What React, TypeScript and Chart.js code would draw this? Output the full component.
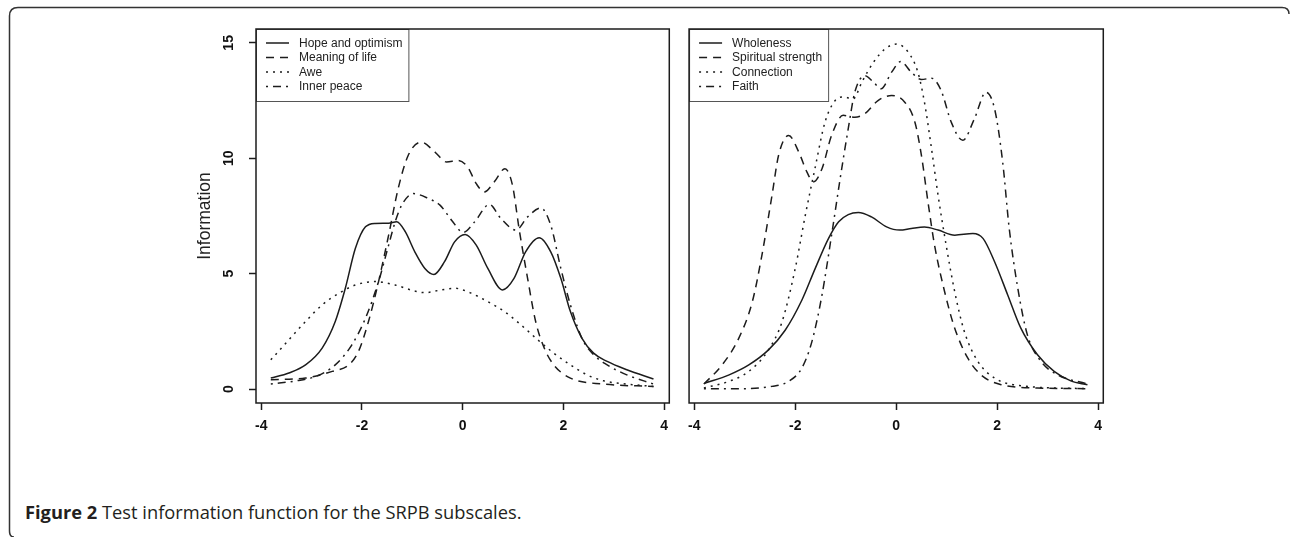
import { useEffect, useRef } from "react";
import { Chart, registerables } from "chart.js";

Chart.register(...registerables);

// ---- axis ticks ----
const xTickValues = [-4, -2, 0, 2, 4];
const yTickValues = [0, 5, 10, 15];
const xMin = -4.104;
const xMax = 4.104;
const yMin = -0.6;
const yMax = 15.6;

// ---- left panel series ----
const hopeLabel = "Hope and optimism";
const hopeX = [-3.81, -3.45, -3.12, -2.79, -2.53, -2.33, -2.13, -1.93, -1.74, -1.47, -1.31, -1.14, -0.95, -0.75, -0.57, -0.36, -0.16, 0.05, 0.27, 0.5, 0.79, 1.02, 1.25, 1.52, 1.75, 1.95, 2.14, 2.37, 2.6, 2.87, 3.26, 3.79];
const hopeY = [0.48, 0.7, 1.05, 1.78, 2.93, 4.37, 6.1, 7.03, 7.18, 7.19, 7.25, 6.82, 5.95, 5.23, 4.97, 5.52, 6.38, 6.7, 6.24, 5.23, 4.3, 4.8, 5.95, 6.56, 5.95, 4.8, 3.36, 2.2, 1.56, 1.2, 0.84, 0.44];

const meaningLabel = "Meaning of life";
const meaningX = [-3.81, -3.12, -2.59, -2.26, -2.07, -1.87, -1.67, -1.47, -1.28, -1.08, -0.82, -0.55, -0.32, -0.09, 0.1, 0.27, 0.43, 0.63, 0.84, 0.99, 1.12, 1.29, 1.45, 1.62, 1.81, 2.14, 2.8, 3.79];
const meaningY = [0.41, 0.48, 0.77, 1.05, 1.63, 2.93, 4.66, 6.67, 8.69, 10.13, 10.7, 10.27, 9.84, 9.91, 9.62, 8.9, 8.54, 8.98, 9.55, 8.83, 6.96, 4.8, 2.93, 1.78, 1.05, 0.48, 0.22, 0.12];

const aweLabel = "Awe";
const aweX = [-3.81, -3.45, -3.12, -2.79, -2.46, -2.13, -1.74, -1.34, -0.95, -0.75, -0.42, -0.16, 0.1, 0.5, 0.83, 1.16, 1.49, 1.81, 2.14, 2.47, 2.8, 3.26, 3.79];
const aweY = [1.27, 2.14, 2.93, 3.65, 4.15, 4.51, 4.66, 4.51, 4.25, 4.18, 4.3, 4.37, 4.22, 3.79, 3.36, 2.78, 2.14, 1.56, 1.05, 0.62, 0.36, 0.22, 0.12];

const peaceLabel = "Inner peace";
const peaceX = [-3.81, -3.31, -2.92, -2.53, -2.2, -1.93, -1.67, -1.47, -1.34, -1.21, -0.98, -0.68, -0.45, -0.22, 0.01, 0.24, 0.53, 0.76, 1.06, 1.29, 1.55, 1.75, 1.95, 2.14, 2.37, 2.6, 2.87, 3.26, 3.79];
const peaceY = [0.22, 0.36, 0.55, 1.05, 1.92, 3.07, 4.66, 6.24, 7.25, 7.97, 8.47, 8.26, 7.97, 7.32, 6.79, 7.25, 8.0, 7.39, 6.89, 7.46, 7.85, 7.1, 5.23, 3.65, 2.2, 1.49, 1.05, 0.62, 0.22];

// ---- right panel series ----
const wholeLabel = "Wholeness";
const wholeX = [-3.81, -3.31, -2.92, -2.53, -2.2, -1.87, -1.61, -1.34, -1.14, -0.95, -0.75, -0.49, -0.19, 0.07, 0.3, 0.56, 0.83, 1.16, 1.52, 1.72, 1.95, 2.21, 2.47, 2.8, 3.13, 3.46, 3.79];
const wholeY = [0.24, 0.62, 1.05, 1.7, 2.55, 3.85, 5.2, 6.53, 7.25, 7.56, 7.65, 7.46, 7.03, 6.89, 6.96, 7.02, 6.89, 6.67, 6.74, 6.53, 5.52, 4.08, 2.64, 1.49, 0.77, 0.36, 0.19];

const strengthLabel = "Spiritual strength";
const strengthX = [-3.81, -3.45, -3.12, -2.85, -2.66, -2.46, -2.33, -2.13, -1.93, -1.77, -1.64, -1.47, -1.28, -1.05, -0.82, -0.62, -0.36, -0.09, 0.17, 0.37, 0.5, 0.63, 0.76, 0.96, 1.16, 1.42, 1.68, 2.08, 2.8, 3.79];
const strengthY = [0.22, 1.05, 2.2, 3.79, 5.81, 8.4, 10.13, 10.99, 10.27, 9.41, 8.98, 9.55, 10.99, 11.86, 11.78, 11.93, 12.5, 12.72, 12.43, 11.57, 10.13, 8.11, 6.24, 4.22, 2.64, 1.34, 0.62, 0.19, 0.05, 0.02];

const connectionLabel = "Connection";
const connectionX = [-3.81, -3.31, -2.92, -2.53, -2.26, -2.0, -1.8, -1.61, -1.41, -1.21, -1.05, -0.85, -0.68, -0.45, -0.22, 0.01, 0.24, 0.43, 0.56, 0.7, 0.83, 0.99, 1.16, 1.35, 1.62, 1.95, 2.47, 3.79];
const connectionY = [0.05, 0.34, 0.77, 1.7, 2.93, 5.23, 7.54, 9.55, 11.57, 12.5, 12.65, 12.58, 13.3, 14.16, 14.74, 14.95, 14.59, 13.73, 12.43, 10.42, 8.4, 6.24, 4.22, 2.5, 1.2, 0.48, 0.15, 0.02];

const faithLabel = "Faith";
const faithX = [-3.81, -3.12, -2.46, -2.13, -1.87, -1.67, -1.47, -1.28, -1.11, -0.95, -0.82, -0.62, -0.45, -0.3, -0.09, 0.09, 0.3, 0.5, 0.7, 0.89, 1.09, 1.32, 1.55, 1.78, 1.95, 2.11, 2.24, 2.41, 2.6, 2.87, 3.2, 3.79];
const faithY = [0.02, 0.02, 0.12, 0.34, 0.91, 2.06, 4.08, 6.67, 9.12, 11.28, 12.86, 13.58, 13.3, 13.01, 13.73, 14.19, 13.73, 13.41, 13.47, 12.94, 11.57, 10.78, 11.71, 12.86, 12.14, 9.84, 6.96, 4.37, 2.35, 1.2, 0.62, 0.22];

// ---- styles ----
const INK = "#1c1c1c";
const SOLID: number[] = [];
const DASHED = [8, 6];
const DOTTED = [2, 5];
const DOTDASH = [2, 5, 8, 5];
const FONT = '"Liberation Sans", Arial, Helvetica, sans-serif';

function series(label: string, xs: number[], ys: number[], dash: number[]) {
  return {
    label,
    data: xs.map((x, i) => ({ x, y: ys[i] })),
    borderColor: INK,
    borderWidth: 1.5,
    borderDash: dash,
    pointRadius: 0,
    fill: false,
    tension: 0.4,
    cubicInterpolationMode: "monotone" as const,
  };
}

const boxAndLegend = {
  id: "boxAndLegend",
  afterDraw(chart: any) {
    const { ctx, chartArea: a } = chart;
    ctx.save();
    ctx.font = `12px ${FONT}`;
    const ds = chart.data.datasets;
    const maxW = Math.max(...ds.map((d: any) => ctx.measureText(d.label).width));
    const w = maxW + 49;
    const h = 72;
    ctx.fillStyle = "#ffffff";
    ctx.fillRect(a.left, a.top, w, h);
    ctx.strokeStyle = "#555555";
    ctx.lineWidth = 1;
    ctx.setLineDash([]);
    ctx.strokeRect(a.left + 0.5, a.top + 0.5, w, h);
    ds.forEach((d: any, i: number) => {
      const y = a.top + 14 + i * 14.5;
      ctx.beginPath();
      ctx.setLineDash(d.borderDash || []);
      ctx.strokeStyle = INK;
      ctx.lineWidth = 1.5;
      ctx.moveTo(a.left + 10, y);
      ctx.lineTo(a.left + 33, y);
      ctx.stroke();
      ctx.setLineDash([]);
      ctx.fillStyle = "#222222";
      ctx.textBaseline = "middle";
      ctx.textAlign = "left";
      ctx.fillText(d.label, a.left + 43, y + 0.5);
    });
    ctx.setLineDash([]);
    ctx.strokeStyle = INK;
    ctx.lineWidth = 1.5;
    ctx.strokeRect(a.left, a.top, a.right - a.left, a.bottom - a.top);
    ctx.restore();
  },
};

function xScale() {
  return {
    type: "linear" as const,
    min: xMin,
    max: xMax,
    afterBuildTicks: (s: any) => {
      s.ticks = xTickValues.map((v) => ({ value: v }));
    },
    afterFit: (s: any) => {
      s.height = 57;
    },
    border: { display: false },
    grid: { display: true, drawOnChartArea: false, drawTicks: true, tickLength: 7, tickWidth: 1.5, tickColor: INK },
    ticks: {
      color: "#111111",
      font: { family: FONT, size: 14, weight: "bold" as const },
      padding: 8,
      maxRotation: 0,
      autoSkip: false,
    },
  };
}

function makeChart(canvas: HTMLCanvasElement, datasets: any[], withYAxis: boolean, padding: any) {
  const yAxis = withYAxis
    ? {
        min: yMin,
        max: yMax,
        afterBuildTicks: (s: any) => {
          s.ticks = yTickValues.map((v) => ({ value: v }));
        },
        afterFit: (s: any) => {
          s.width = 61;
        },
        border: { display: false },
        grid: { display: true, drawOnChartArea: false, drawTicks: true, tickLength: 7, tickWidth: 1.5, tickColor: INK },
        ticks: {
          color: "#111111",
          font: { family: FONT, size: 14, weight: "bold" as const },
          padding: 12,
          minRotation: 90,
          maxRotation: 90,
          crossAlign: "center" as const,
          autoSkip: false,
        },
        title: {
          display: true,
          text: "Information",
          color: "#222222",
          font: { family: FONT, size: 17.5 },
          padding: { top: 0, bottom: 0 },
        },
      }
    : { display: false, min: yMin, max: yMax };

  return new Chart(canvas, {
    type: "line",
    data: { datasets },
    options: {
      responsive: false,
      animation: false,
      events: [],
      layout: { padding },
      scales: { x: xScale(), y: yAxis as any },
      plugins: { legend: { display: false }, tooltip: { enabled: false } },
    },
    plugins: [boxAndLegend],
  });
}

export default function App() {
  const leftRef = useRef<HTMLCanvasElement>(null);
  const rightRef = useRef<HTMLCanvasElement>(null);

  useEffect(() => {
    const left = makeChart(
      leftRef.current!,
      [
        series(hopeLabel, hopeX, hopeY, SOLID),
        series(meaningLabel, meaningX, meaningY, DASHED),
        series(aweLabel, aweX, aweY, DOTTED),
        series(peaceLabel, peaceX, peaceY, DOTDASH),
      ],
      true,
      { left: 15, top: 29, right: 4, bottom: 0 }
    );
    const right = makeChart(
      rightRef.current!,
      [
        series(wholeLabel, wholeX, wholeY, SOLID),
        series(strengthLabel, strengthX, strengthY, DASHED),
        series(connectionLabel, connectionX, connectionY, DOTTED),
        series(faithLabel, faithX, faithY, DOTDASH),
      ],
      false,
      { left: 9, top: 29, right: 5, bottom: 0 }
    );
    return () => {
      left.destroy();
      right.destroy();
    };
  }, []);

  return (
    <div style={{ position: "absolute", left: 0, top: 0, width: 1290, height: 537, background: "#fff", overflow: "hidden" }}>
      <svg width={1290} height={537} style={{ position: "absolute", left: 0, top: 0 }}>
        <path
          d="M 14 537 Q 9.5 537 9.5 531 L 9.5 16 Q 9.5 7.5 18 7.5 L 1282 7.5 Q 1289 7.5 1289 14"
          fill="none"
          stroke="#333"
          strokeWidth={1.5}
        />
      </svg>
      <canvas ref={leftRef} width={496} height={460} style={{ position: "absolute", left: 180, top: 0 }} />
      <canvas ref={rightRef} width={430} height={460} style={{ position: "absolute", left: 680, top: 0 }} />
      <div
        style={{
          position: "absolute",
          left: 25,
          top: 501,
          fontFamily: '"Open Sans", "Noto Sans", sans-serif',
          fontSize: 18.3,
          lineHeight: "22px",
          color: "#231f20",
          whiteSpace: "nowrap",
        }}
      >
        <b>Figure 2</b> Test information function for the SRPB subscales.
      </div>
    </div>
  );
}
